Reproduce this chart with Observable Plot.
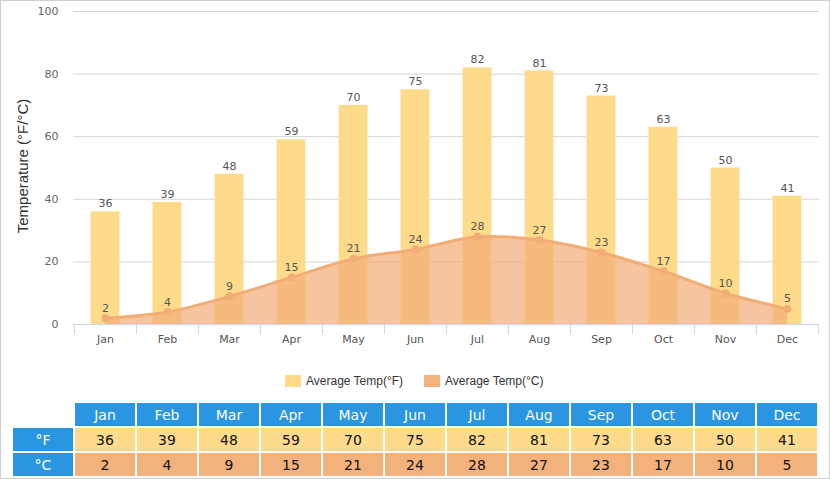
<!DOCTYPE html>
<html>
<head>
<meta charset="utf-8">
<script src="https://cdn.jsdelivr.net/npm/d3@7"></script>
<script src="https://cdn.jsdelivr.net/npm/@observablehq/plot@0.6"></script>
<style>
  html, body { margin: 0; padding: 0; background: #fff; }
  #root { position: relative; width: 830px; height: 479px; overflow: hidden; }
  #frame { position: absolute; left: 0; top: 0; width: 830px; height: 479px; box-sizing: border-box; border: 1px solid #cfcfcf; pointer-events: none; }
  #chart { position: absolute; left: 0; top: 0; }
  #ytitle { position: absolute; left: 22px; top: 166px; transform: translate(-50%, -50%) rotate(-90deg); white-space: nowrap;
            font: 15px "Liberation Sans", Arial, sans-serif; color: #333; }
  #legend { position: absolute; left: 285px; top: 374px; display: flex; align-items: center; font: 12px "Liberation Sans", Arial, sans-serif; color: #333; }
  #legend .item { display: flex; align-items: center; margin-right: 21px; }
  #legend .sw { width: 16px; height: 12px; margin-right: 5px; }
  #table { position: absolute; left: 11px; top: 401px; border-collapse: separate; border-spacing: 2px; font-family: "DejaVu Sans", Verdana, sans-serif; font-size: 14px; }
  #table td { width: 60px; height: 23px; padding: 0; text-align: center; vertical-align: middle; }
  #table td.hd { background: #2a95e1; color: #fff; }
  #table td.f { background: #fddb8b; color: #111; }
  #table td.c { background: #f3b27c; color: #111; }
</style>
</head>
<body>
<div id="root">
  <div id="chart"></div>
  <div id="ytitle">Temperature (°F/°C)</div>
  <div id="legend"></div>
  <table id="table"></table>
  <div id="frame"></div>
</div>
<script>
const months = ["Jan","Feb","Mar","Apr","May","Jun","Jul","Aug","Sep","Oct","Nov","Dec"];
const tempF = [36, 39, 48, 59, 70, 75, 82, 81, 73, 63, 50, 41];
const tempC = [2, 4, 9, 15, 21, 24, 28, 27, 23, 17, 10, 5];
const yTicks = [0, 20, 40, 60, 80, 100];
const seriesNames = ["Average Temp(°F)", "Average Temp(°C)"];
const colF = "#fddb8b";
const colC = "#f2ad76";

const data = months.map((m, i) => ({month: m, f: tempF[i], c: tempC[i]}));

const W = 830, H = 355, mL = 73, mR = 11, mT = 11, mB = 31;
const bw = (W - mL - mR) / months.length;
const barW = 29;
const inset = (bw - barW) / 2;

const chart = Plot.plot({
  width: W, height: H,
  marginLeft: mL, marginRight: mR, marginTop: mT, marginBottom: mB,
  style: {fontFamily: '"DejaVu Sans", Verdana, sans-serif', fontSize: "11px", color: "#666", background: "transparent", overflow: "visible"},
  x: {type: "band", domain: months, padding: 0, label: null},
  y: {domain: [0, 100], label: null},
  marks: [
    Plot.gridY(yTicks.filter(t => t > 0), {stroke: "#d6d6d6", strokeOpacity: 1}),
    Plot.barY(data, {x: "month", y: "f", fill: colF, insetLeft: inset, insetRight: inset}),
    Plot.areaY(data, {x: "month", y: "c", fill: colC, fillOpacity: 0.7, curve: "catmull-rom"}),
    Plot.lineY(data, {x: "month", y: "c", stroke: colC, strokeWidth: 3, curve: "catmull-rom"}),
    Plot.dot(data, {x: "month", y: "c", r: 4, fill: colC}),
    Plot.ruleY([0], {stroke: "#ccd6eb"}),
    Plot.ruleX(months, {x: d => d, dx: -bw / 2, y1: 0, y2: 0, insetBottom: -10, stroke: "#ccd6eb"}),
    Plot.ruleX(months.slice(-1), {x: d => d, dx: bw / 2, y1: 0, y2: 0, insetBottom: -10, stroke: "#ccd6eb"}),
    Plot.text(data, {x: "month", y: "f", text: d => String(d.f), dy: -8, fill: "#555", fontSize: 11}),
    Plot.text(data, {x: "month", y: "c", text: d => String(d.c), dy: -10, fill: "#555", fontSize: 11}),
    Plot.axisY({ticks: yTicks, tickSize: 0, tickPadding: 15, label: null, fill: "#666"}),
    Plot.axisX({tickSize: 0, tickPadding: 11, label: null, fill: "#555"})
  ]
});
document.getElementById("chart").appendChild(chart);

// legend
const legend = document.getElementById("legend");
[[seriesNames[0], colF], [seriesNames[1], "#f3b27c"]].forEach(([name, col]) => {
  const it = document.createElement("div");
  it.className = "item";
  const sw = document.createElement("div");
  sw.className = "sw"; sw.style.background = col;
  const tx = document.createElement("span");
  tx.textContent = name;
  it.appendChild(sw); it.appendChild(tx);
  legend.appendChild(it);
});

// table
const table = document.getElementById("table");
const rows = [
  {label: "", cls: "hd", values: months, labelCls: null},
  {label: "°F", cls: "f", values: tempF, labelCls: "hd"},
  {label: "°C", cls: "c", values: tempC, labelCls: "hd"}
];
rows.forEach(r => {
  const tr = document.createElement("tr");
  const lab = document.createElement("td");
  lab.textContent = r.label;
  if (r.labelCls) lab.className = r.labelCls;
  tr.appendChild(lab);
  r.values.forEach(v => {
    const td = document.createElement("td");
    td.className = r.cls;
    td.textContent = v;
    tr.appendChild(td);
  });
  table.appendChild(tr);
});
</script>
</body>
</html>
